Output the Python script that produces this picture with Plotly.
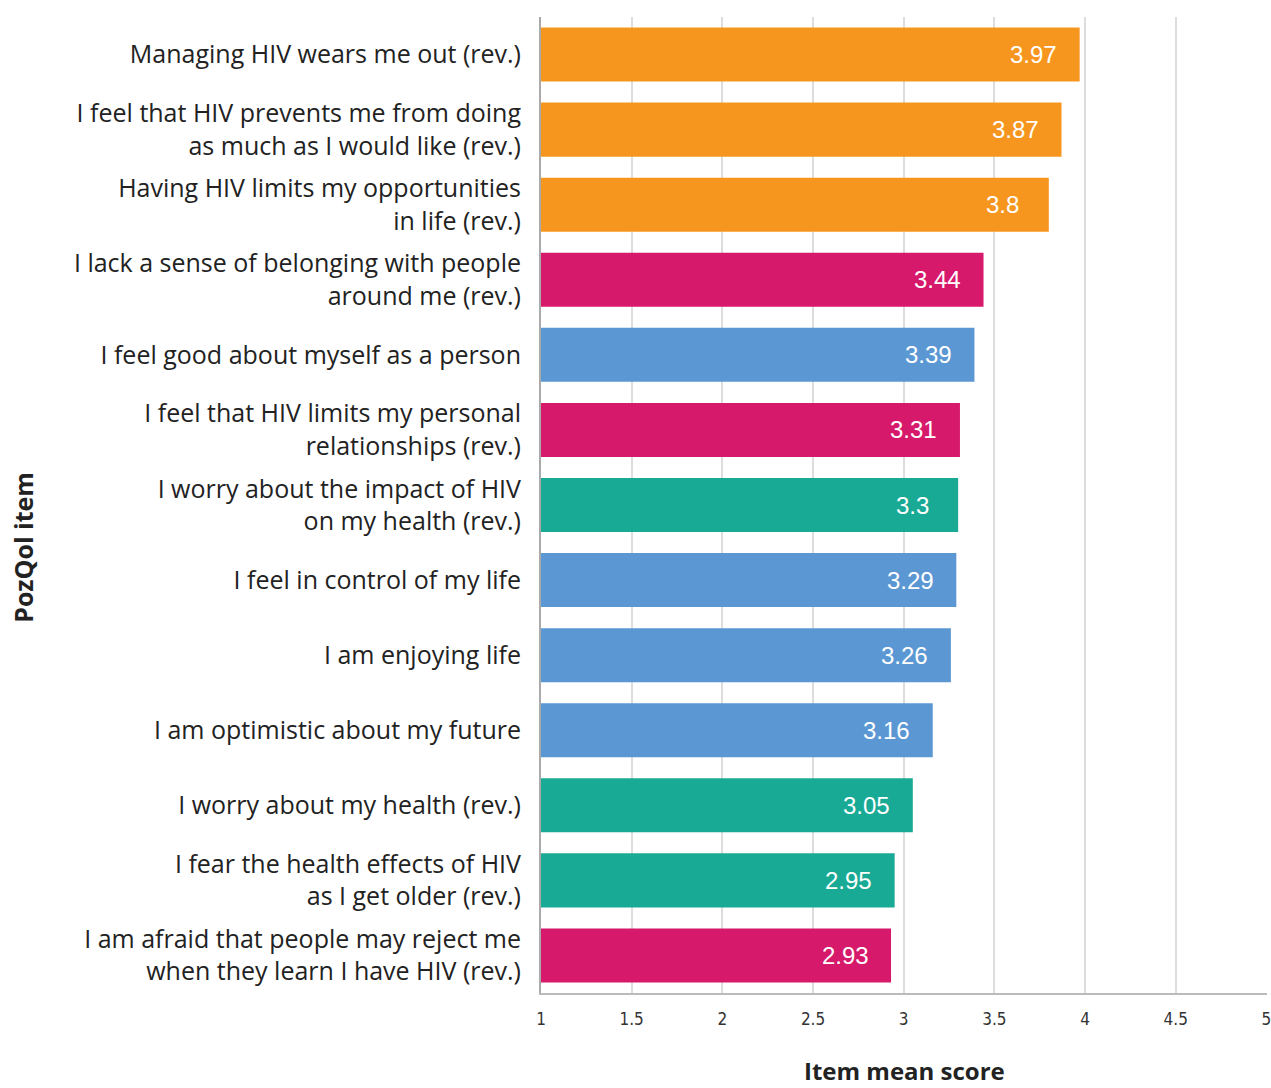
import plotly.graph_objects as go

items = [
    "Managing HIV wears me out (rev.)",
    "I feel that HIV prevents me from doing<br>as much as I would like (rev.)",
    "Having HIV limits my opportunities<br>in life (rev.)",
    "I lack a sense of belonging with people<br>around me (rev.)",
    "I feel good about myself as a person",
    "I feel that HIV limits my personal<br>relationships (rev.)",
    "I worry about the impact of HIV<br>on my health (rev.)",
    "I feel in control of my life",
    "I am enjoying life",
    "I am optimistic about my future",
    "I worry about my health (rev.)",
    "I fear the health effects of HIV<br>as I get older (rev.)",
    "I am afraid that people may reject me<br>when they learn I have HIV (rev.)",
]
scores = [3.97, 3.87, 3.8, 3.44, 3.39, 3.31, 3.3, 3.29, 3.26, 3.16, 3.05, 2.95, 2.93]
domains = ["functional", "functional", "functional", "social", "psychological", "social",
           "health", "psychological", "psychological", "psychological", "health", "health", "social"]
domain_colors = {
    "functional": "#F7961F",
    "social": "#D6196B",
    "psychological": "#5A97D3",
    "health": "#19AA95",
}
x_ticks = [1, 1.5, 2, 2.5, 3, 3.5, 4, 4.5, 5]
x_tick_text = ["1", "1.5", "2", "2.5", "3", "3.5", "4", "4.5", "5"]

FONT = "'Open Sans', 'Noto Sans', sans-serif"
NUM_FONT = "'Liberation Sans', Arial, sans-serif"

fig = go.Figure()
fig.add_trace(go.Bar(
    x=[s - 1 for s in scores],
    base=1,
    y=items,
    orientation="h",
    marker=dict(color=[domain_colors[d] for d in domains], line=dict(width=0)),
    width=0.72,
    hoverinfo="skip",
))

for it, s in zip(items, scores):
    fig.add_annotation(
        x=s, y=it, text=f"{s:g}", showarrow=False,
        xanchor="center", yanchor="middle", xshift=-46,
        font=dict(family=NUM_FONT, size=24, color="white"),
    )

fig.add_annotation(
    x=-0.7137, y=0.457, xref="paper", yref="paper", text="<b>PozQol item</b>",
    textangle=-90, showarrow=False, xanchor="center", yanchor="middle",
    font=dict(family=FONT, size=25, color="#222222"),
)
fig.add_annotation(
    x=0.5, y=-0.0789, xref="paper", yref="paper", text="<b>Item mean score</b>",
    showarrow=False, xanchor="center", yanchor="middle", borderpad=0,
    font=dict(family=FONT, size=24, color="#222222"),
)

fig.update_layout(
    width=1271, height=1088,
    margin=dict(l=541, r=0, t=17, b=95),
    paper_bgcolor="white", plot_bgcolor="white",
    showlegend=False,
    font=dict(family=FONT, color="#222222"),
)
fig.update_xaxes(
    range=[1, 5.003], tickvals=x_ticks, ticktext=x_tick_text,
    showgrid=True, gridcolor="#DDDDDD", gridwidth=2,
    showline=True, linecolor="#BBBBBB", linewidth=2,
    ticks="outside", ticklen=10, tickcolor="rgba(0,0,0,0)",
    ticklabeloverflow="allow",
    tickfont=dict(family="'Liberation Sans Narrow', 'DejaVu Sans Condensed', sans-serif", size=17, color="#333333"),
    zeroline=False, fixedrange=True,
)
fig.update_yaxes(
    autorange="reversed", categoryorder="array", categoryarray=items,
    showline=True, linecolor="#AAAAAA", linewidth=2,
    ticks="outside", ticklen=13, tickcolor="rgba(0,0,0,0)",
    tickfont=dict(family=FONT, size=25, color="#222222"),
    showgrid=False, fixedrange=True,
)

fig.write_html(
    "out.html",
    config={"displayModeBar": False, "staticPlot": True},
    post_script="document.body.style.margin='0';document.body.style.overflow='hidden';",
)
